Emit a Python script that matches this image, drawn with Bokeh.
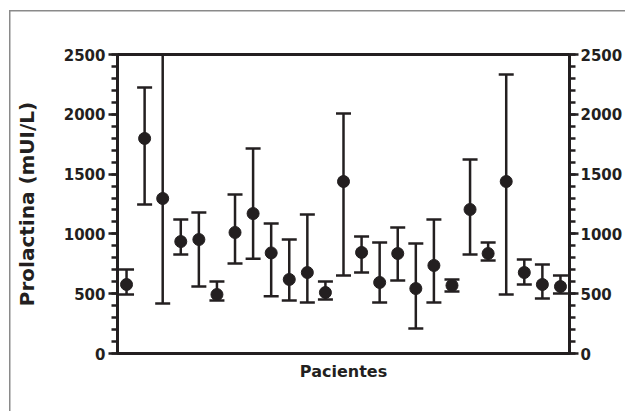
from bokeh.plotting import figure
from bokeh.models import (ColumnDataSource, Whisker, TeeHead, LinearAxis, SingleIntervalTicker,
                          FixedTicker, Range1d)
from bokeh.embed import file_html
from bokeh.resources import INLINE

patients = list(range(1, 26))
means = [577, 1798, 1296, 936, 953, 493, 1012, 1170, 841, 619, 677, 510, 1438,
         845, 594, 836, 543, 736, 569, 1204, 836, 1438, 677, 577, 560]
upper = [702, 2224, 2500, 1120, 1179, 602, 1329, 1714, 1087, 953, 1162, 602, 2007,
         978, 928, 1054, 920, 1120, 619, 1622, 928, 2333, 786, 744, 652]
lower = [493, 1246, 418, 828, 560, 443, 752, 792, 479, 443, 426, 452, 652,
         677, 426, 610, 209, 426, 518, 828, 778, 493, 577, 460, 502]

INK = "#231f20"
FONT = "DejaVu Sans"
FRAME_GRAY = "#8a8a8a"

src = ColumnDataSource(dict(x=patients, y=means, upper=upper, lower=lower))

p = figure(width=625, height=411, output_backend="svg", toolbar_location=None,
           x_range=Range1d(0.5, 25.5), y_range=Range1d(0, 2500),
           min_border_left=117, min_border_right=54, min_border_top=54, min_border_bottom=58)
p.grid.visible = False
p.outline_line_color = INK
p.outline_line_width = 3
p.background_fill_color = "white"
p.border_fill_alpha = 0

# outer panel frame (left and top edges), drawn as CSS background of the plot element
grad = f"linear-gradient({FRAME_GRAY},{FRAME_GRAY})"
p.styles = {
    "background-color": "white",
    "background-image": f"{grad}, {grad}",
    "background-size": "1.5px 100%, 100% 1.5px",
    "background-position": "9px 10px, 9px 10px",
    "background-repeat": "no-repeat",
}

whisk = Whisker(base="x", upper="upper", lower="lower", source=src,
                line_color=INK, line_width=2.5,
                upper_head=TeeHead(size=15, line_color=INK, line_width=2.5),
                lower_head=TeeHead(size=15, line_color=INK, line_width=2.5))
p.add_layout(whisk)
p.scatter("x", "y", source=src, size=12, marker="circle", color=INK)

def style_y(ax, standoff):
    ax.ticker = SingleIntervalTicker(interval=500, num_minor_ticks=5)
    ax.axis_line_color = INK
    ax.axis_line_width = 3
    ax.major_tick_line_color = INK
    ax.major_tick_line_width = 2.5
    ax.minor_tick_line_color = INK
    ax.minor_tick_line_width = 2.5
    ax.major_tick_out = 9
    ax.major_tick_in = 0
    ax.minor_tick_out = 6
    ax.minor_tick_in = 0
    ax.major_label_text_font = FONT
    ax.major_label_text_font_style = "bold"
    ax.major_label_text_font_size = "15px"
    ax.major_label_text_color = INK
    ax.major_label_standoff = standoff

style_y(p.yaxis[0], 3)
p.yaxis[0].axis_label = "Prolactina (mUI/L)"
p.yaxis[0].axis_label_text_font = FONT
p.yaxis[0].axis_label_text_font_style = "bold"
p.yaxis[0].axis_label_text_font_size = "20px"
p.yaxis[0].axis_label_text_color = INK
p.yaxis[0].axis_label_standoff = 22

right = LinearAxis()
style_y(right, 2)
p.add_layout(right, "right")

xa = p.xaxis[0]
xa.ticker = FixedTicker(ticks=[])
xa.axis_line_color = INK
xa.axis_line_width = 3
xa.major_tick_out = 0
xa.minor_tick_out = 0
xa.axis_label = "Pacientes"
xa.axis_label_text_font = FONT
xa.axis_label_text_font_style = "bold"
xa.axis_label_text_font_size = "16px"
xa.axis_label_text_color = INK
xa.axis_label_standoff = 8

open("out.html", "w").write(file_html(p, INLINE))
